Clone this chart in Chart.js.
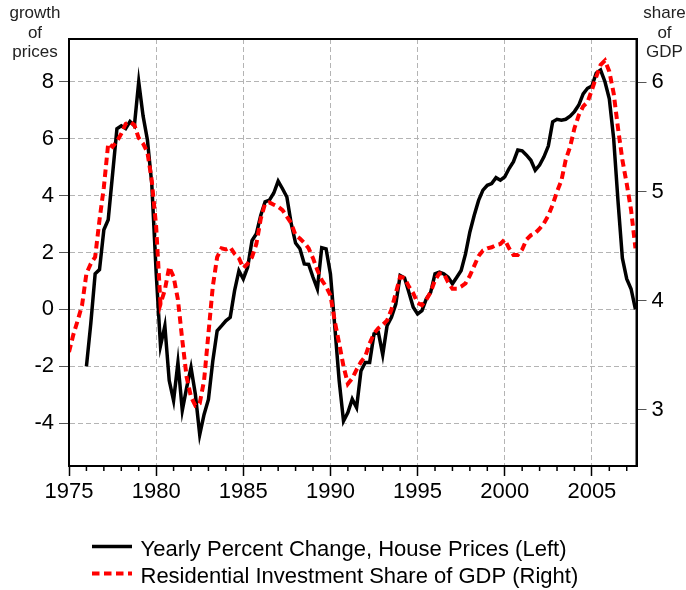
<!DOCTYPE html>
<html><head><meta charset="utf-8">
<script src="https://cdn.jsdelivr.net/npm/chart.js@4.4.0/dist/chart.umd.min.js"></script>
<style>html,body{margin:0;padding:0;background:#fff;}#wrap{width:686px;height:590px;position:relative;}</style>
</head><body><div id="wrap"><canvas id="c" width="686" height="590"></canvas></div>
<script>
// ---- data (quarterly) ----
const houseStartYear = 1976.0;
const houseGrowth = [
  -2.0, -0.5, 1.25, 1.4,
  2.8, 3.15, 4.75, 6.35,
  6.45, 6.35, 6.6, 6.45,
  8.0, 6.8, 5.95, 4.4,
  1.3, -1.28, -0.58, -2.5,
  -3.2, -1.87, -3.55, -2.75,
  -2.04, -2.98, -4.4, -3.69,
  -3.16, -1.81, -0.75, -0.58,
  -0.4, -0.28, 0.66, 1.36,
  1.07, 1.48, 2.42, 2.66,
  3.3, 3.78, 3.84, 4.09,
  4.51, 4.24, 3.95, 3.01,
  2.33, 2.13, 1.6, 1.58,
  1.13, 0.72, 2.17, 2.13,
  1.25, -0.6, -2.5, -3.92,
  -3.62, -3.15, -3.45, -2.16,
  -1.86, -1.86, -0.86, -0.81,
  -1.59, -0.57, -0.28, 0.19,
  1.19, 1.11, 0.6, 0.08,
  -0.16, -0.04, 0.37, 0.6,
  1.25, 1.31, 1.25, 1.13,
  0.9, 1.13, 1.37, 1.95,
  2.72, 3.31, 3.83, 4.19,
  4.36, 4.42, 4.63, 4.54,
  4.66, 4.95, 5.19, 5.6,
  5.57, 5.42, 5.24, 4.89,
  5.07, 5.36, 5.74, 6.59,
  6.68, 6.65, 6.68, 6.79,
  6.95, 7.18, 7.57, 7.77,
  7.85, 8.3, 8.41, 8.0,
  7.4, 6.0, 3.8, 1.8,
  1.07, 0.72, 0.0
];
const resStartYear = 1975.0;
const resInvestShare = [
  3.53, 3.69, 3.82, 3.96,
  4.25, 4.34, 4.40, 4.74,
  5.04, 5.44, 5.41, 5.46,
  5.53, 5.62, 5.64, 5.61,
  5.49, 5.44, 5.36, 5.10,
  4.68, 3.97, 4.10, 4.31,
  4.22, 4.01, 3.64, 3.30,
  3.12, 3.04, 3.06, 3.27,
  3.70, 4.13, 4.40, 4.48,
  4.47, 4.49, 4.43, 4.39,
  4.30, 4.34, 4.40, 4.52,
  4.75, 4.89, 4.90, 4.88,
  4.86, 4.83, 4.77, 4.71,
  4.60, 4.57, 4.53, 4.48,
  4.39, 4.28, 4.19, 4.13,
  4.05, 3.81, 3.61, 3.40,
  3.24, 3.29, 3.37, 3.44,
  3.49, 3.61, 3.70, 3.75,
  3.78, 3.82, 3.92, 4.07,
  4.22, 4.21, 4.13, 4.07,
  3.98, 3.96, 4.01, 4.08,
  4.19, 4.25, 4.25, 4.17,
  4.11, 4.11, 4.13, 4.16,
  4.23, 4.32, 4.41, 4.46,
  4.48, 4.49, 4.51, 4.52,
  4.56, 4.48, 4.42, 4.42,
  4.47, 4.56, 4.60, 4.62,
  4.66, 4.71, 4.78, 4.88,
  5.00, 5.10, 5.29, 5.41,
  5.58, 5.70, 5.78, 5.82,
  5.93, 6.05, 6.16, 6.20,
  6.10, 5.90, 5.58, 5.29,
  5.07, 4.83, 4.48
];
const yearTicks = [1975,1976,1977,1978,1979,1980,1981,1982,1983,1984,1985,1986,1987,1988,1989,1990,1991,1992,1993,1994,1995,1996,1997,1998,1999,2000,2001,2002,2003,2004,2005,2006,2007];
const yearLabels = [1975,1980,1985,1990,1995,2000,2005];
const leftTicks = [-4,-2,0,2,4,6,8];
const rightTicks = [3,4,5,6];
const seriesNames = ['Yearly Percent Change, House Prices (Left)','Residential Investment Share of GDP (Right)'];
const leftTitle = ['growth','of','prices'];
const rightTitle = ['share','of','GDP'];

const FONT = '"Liberation Sans", Arial, Helvetica, sans-serif';
const GRID = '#b4b4b4';

const toPoints = (start, arr) => arr.map((v, i) => ({x: start + i * 0.25, y: v}));

const decorPlugin = {
  id: 'decor',
  afterDatasetsDraw(chart) {
    const {ctx, chartArea: a} = chart;
    ctx.save();
    ctx.strokeStyle = '#000'; ctx.lineWidth = 2; ctx.setLineDash([]);
    ctx.strokeRect(a.left, a.top, a.right - a.left, a.bottom - a.top);
    ctx.restore();
  },
  afterDraw(chart) {
    const {ctx, chartArea: a} = chart;
    const xs = chart.scales.x;
    ctx.save();
    // minor year ticks
    ctx.strokeStyle = '#000'; ctx.lineWidth = 1.5;
    yearTicks.forEach(v => {
      if (yearLabels.includes(v)) return;
      const px = xs.getPixelForValue(v);
      ctx.beginPath(); ctx.moveTo(px, a.bottom); ctx.lineTo(px, a.bottom + 5); ctx.stroke();
    });
    // axis titles
    ctx.fillStyle = '#222'; ctx.font = '17px ' + FONT; ctx.textAlign = 'center'; ctx.textBaseline = 'alphabetic';
    const bl = [18.3, 37.5, 56.7];
    leftTitle.forEach((t, i) => ctx.fillText(t, 35, bl[i]));
    rightTitle.forEach((t, i) => ctx.fillText(t, 664.5, bl[i]));
    // legend
    ctx.textAlign = 'left'; ctx.font = '22px ' + FONT; ctx.fillStyle = '#000';
    chart.data.datasets.forEach((ds, i) => {
      const ly = 546.5 + i * 27;
      ctx.save();
      ctx.strokeStyle = ds.borderColor; ctx.lineWidth = ds.borderWidth; ctx.lineCap = 'butt';
      ctx.setLineDash(ds.borderDash || []);
      ctx.beginPath(); ctx.moveTo(92, ly); ctx.lineTo(132, ly); ctx.stroke();
      ctx.restore();
      ctx.fillText(ds.label, 140.5, 556 + i * 27);
    });
    ctx.restore();
  }
};

new Chart(document.getElementById('c'), {
  type: 'line',
  data: {
    datasets: [
      {label: seriesNames[0], data: toPoints(houseStartYear, houseGrowth), yAxisID: 'y',
       borderColor: '#000', borderWidth: 3.5, pointRadius: 0, tension: 0, fill: false, order: 2},
      {label: seriesNames[1], data: toPoints(resStartYear, resInvestShare), yAxisID: 'y2',
       borderColor: '#ff0000', borderWidth: 4, borderDash: [7.5, 4.5], pointRadius: 0, tension: 0, fill: false, order: 1}
    ]
  },
  options: {
    responsive: false, animation: false, devicePixelRatio: 1,
    layout: {padding: {top: 39, left: 0, right: 0, bottom: 0}},
    plugins: {legend: {display: false}, tooltip: {enabled: false}, title: {display: false}},
    scales: {
      x: {
        type: 'linear', position: 'bottom', min: 1975, max: 2007.56,
        afterBuildTicks: s => { s.ticks = yearTicks.map(v => ({value: v})); },
        afterFit: s => { s.height = 124; },
        ticks: {autoSkip: false, maxRotation: 0, minRotation: 0, padding: 3, color: '#000',
                font: {family: FONT, size: 22},
                callback: v => yearLabels.includes(v) ? String(v) : ''},
        grid: {
          color: c => (c.tick && yearLabels.includes(c.tick.value) && c.tick.value !== 1975) ? GRID : 'rgba(0,0,0,0)',
          lineWidth: 1,
          tickColor: c => (c.tick && yearLabels.includes(c.tick.value)) ? '#000' : 'rgba(0,0,0,0)',
          tickLength: 10, tickWidth: 1.5
        },
        border: {display: true, color: '#000', width: 2, dash: [5, 3]}
      },
      y: {
        type: 'linear', position: 'left', min: -5.5, max: 9.5,
        afterBuildTicks: s => { s.ticks = leftTicks.map(v => ({value: v})); },
        afterFit: s => { s.width = 69; },
        ticks: {padding: 5, color: '#000', font: {family: FONT, size: 22}},
        grid: {color: GRID, lineWidth: 1, tickColor: '#555', tickLength: 10, tickWidth: 1},
        border: {display: true, color: '#000', width: 2, dash: [5, 3]}
      },
      y2: {
        type: 'linear', position: 'right', min: 2.487, max: 6.397,
        afterBuildTicks: s => { s.ticks = rightTicks.map(v => ({value: v})); },
        afterFit: s => { s.width = 49.5; },
        ticks: {padding: 5, color: '#000', font: {family: FONT, size: 22}},
        grid: {drawOnChartArea: false, tickColor: '#555', tickLength: 10, tickWidth: 1},
        border: {display: true, color: '#000', width: 2}
      }
    }
  },
  plugins: [decorPlugin]
});
</script></body></html>
